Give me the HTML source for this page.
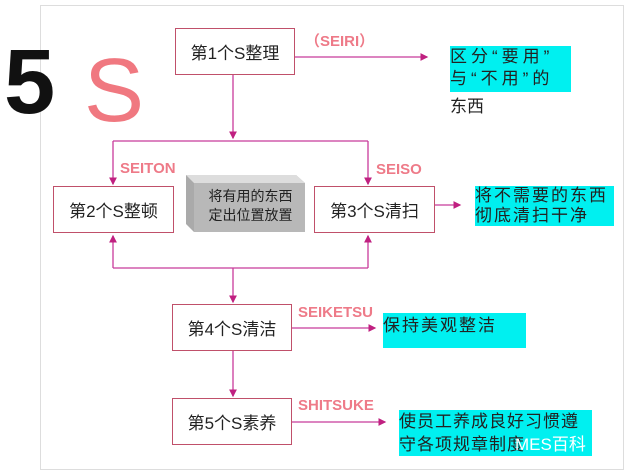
<!DOCTYPE html>
<html><head><meta charset="utf-8"><style>
body{margin:0;width:629px;height:474px;background:#fff;position:relative;overflow:hidden;font-family:"Liberation Sans","Noto Sans CJK SC",sans-serif}
.a{position:absolute}
.box{position:absolute;border:1.5px solid #c0506a;background:#fff;font-size:17px;color:#222;display:flex;align-items:center;justify-content:center;box-sizing:border-box}
.lbl{position:absolute;color:#ee7a88;font-weight:bold;font-size:15px}
.cy{position:absolute;background:#00f0f0;font-size:17px;color:#222;line-height:22px;letter-spacing:2px}
</style></head><body>
<div class="a" style="left:40px;top:5px;width:582px;height:463px;border-left:1px solid #ddd;border-top:1px solid #ddd;border-right:1px solid #ddd;border-bottom:1px solid #ddd"></div>
<div class="a" style="left:4px;top:30px;font-size:92px;font-weight:bold;color:#111;font-family:'Liberation Sans',sans-serif">5</div>
<div class="a" style="left:84px;top:40px;font-size:90px;color:#f07880">S</div>
<svg class="a" style="left:0;top:0" width="629" height="474">
<defs><marker id="m" markerWidth="6" markerHeight="6" refX="5" refY="3" orient="auto"><path d="M0,0L6,3L0,6z" fill="#c02080"/></marker></defs>
<g stroke="#c83a9a" stroke-width="1.3" fill="none">
<path d="M233,75V138" marker-end="url(#m)"/>
<path d="M113,141H368"/>
<path d="M113,141V184" marker-end="url(#m)"/>
<path d="M368,141V184" marker-end="url(#m)"/>
<path d="M295,57H427" marker-end="url(#m)"/>
<path d="M435,205H460" marker-end="url(#m)"/>
<path d="M113,268V236" marker-end="url(#m)"/>
<path d="M368,268V236" marker-end="url(#m)"/>
<path d="M113,268H368"/>
<path d="M233,268V302" marker-end="url(#m)"/>
<path d="M233,351V396" marker-end="url(#m)"/>
<path d="M292,328H375" marker-end="url(#m)"/>
<path d="M292,422H385" marker-end="url(#m)"/>
</g>
<polygon points="186,175 296,175 305,183 305,232 194,232 186,224" fill="#aaa"/>
<polygon points="186,175 296,175 305,183 194,183" fill="#ddd"/>
<rect x="194" y="183" width="111" height="49" fill="#b8b8b8"/>
</svg>
<div class="box" style="left:175px;top:28px;width:120px;height:47px">第1个S整理</div>
<div class="box" style="left:53px;top:186px;width:121px;height:47px">第2个S整顿</div>
<div class="box" style="left:314px;top:186px;width:121px;height:47px">第3个S清扫</div>
<div class="box" style="left:172px;top:304px;width:120px;height:47px">第4个S清洁</div>
<div class="box" style="left:172px;top:398px;width:120px;height:47px">第5个S素养</div>
<div class="a" style="left:196px;top:187px;width:109px;font-size:14px;line-height:19px;text-align:center;color:#222">将有用的东西<br>定出位置放置</div>
<div class="lbl" style="left:305px;top:30px">（SEIRI）</div>
<div class="lbl" style="left:120px;top:160px">SEITON</div>
<div class="lbl" style="left:376px;top:161px">SEISO</div>
<div class="lbl" style="left:298px;top:304px">SEIKETSU</div>
<div class="lbl" style="left:298px;top:397px">SHITSUKE</div>
<div class="cy" style="left:450px;top:46px;width:121px;height:46px;letter-spacing:4px;white-space:nowrap;overflow:hidden">区分“要用”<br>与“不用”的</div>
<div class="a" style="left:450px;top:92px;font-size:17px;color:#222">东西</div>
<div class="cy" style="left:475px;top:186px;width:139px;height:40px;line-height:20px">将不需要的东西<br>彻底清扫干净</div>
<div class="cy" style="left:383px;top:313px;width:143px;height:35px;line-height:26px">保持美观整洁</div>
<div class="cy" style="left:399px;top:410px;width:193px;height:46px;line-height:23px;letter-spacing:1px">使员工养成良好习惯遵<br>守各项规章制度</div>
<div class="a" style="left:515px;top:430px;font-size:17px;color:#fff">MES百科</div>
</body></html>
